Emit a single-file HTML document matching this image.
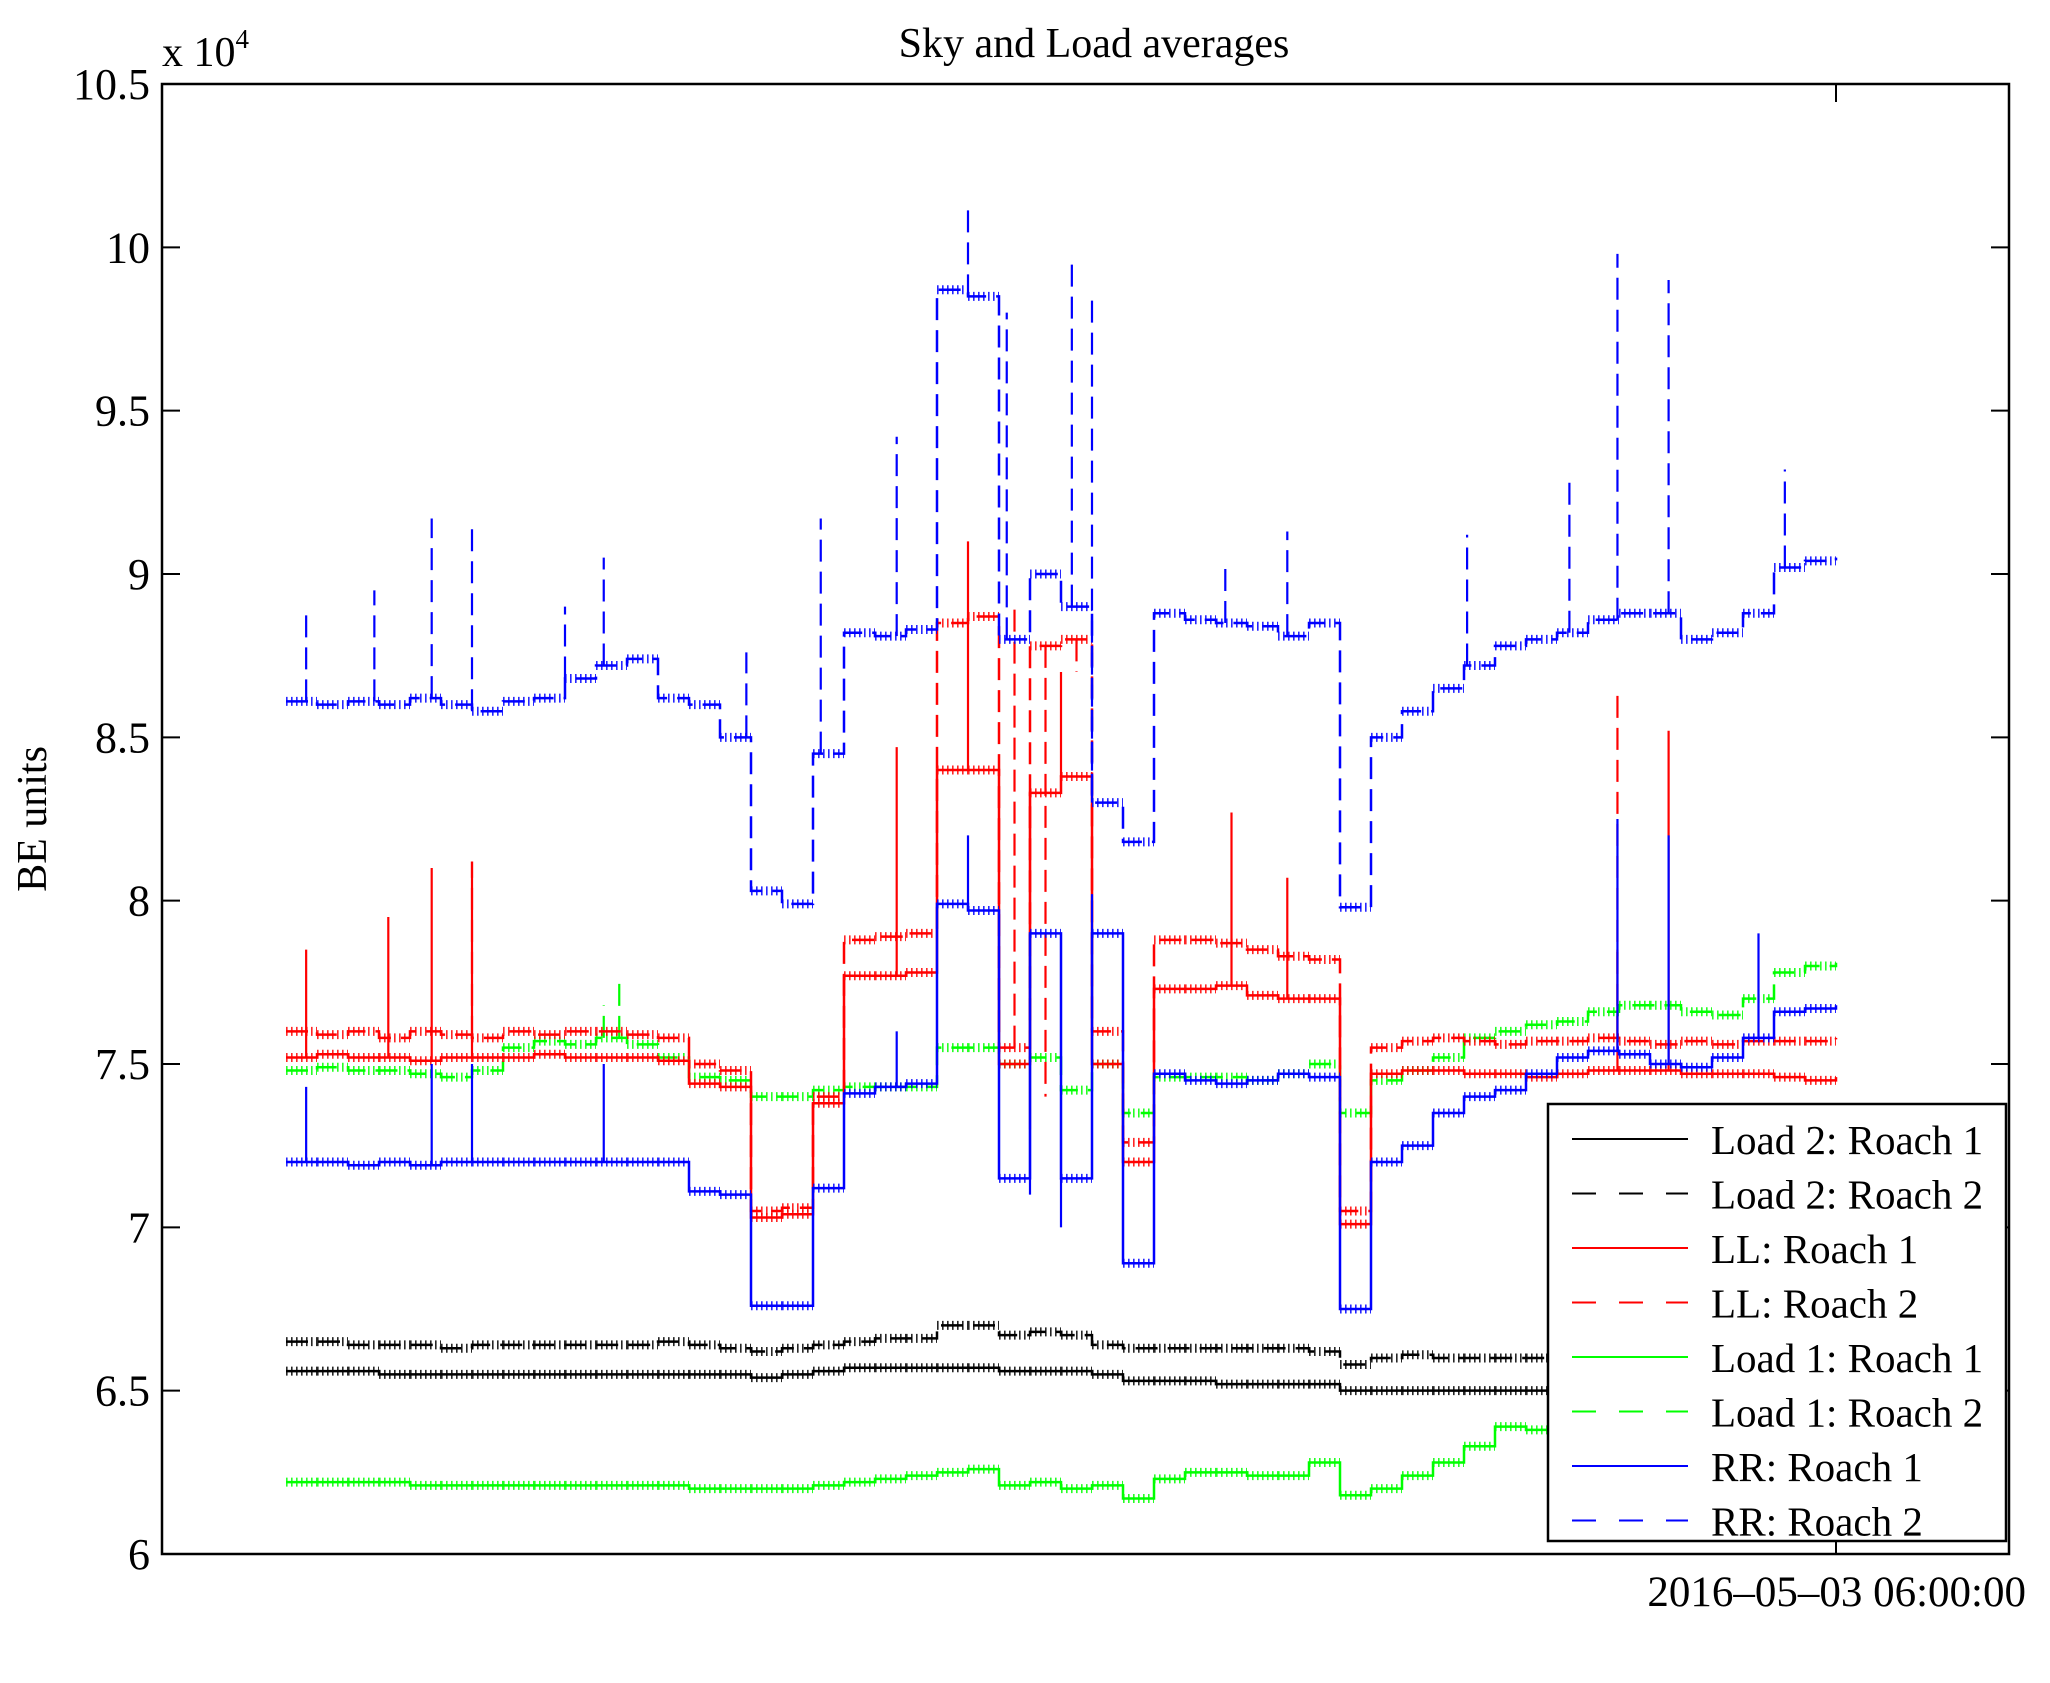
<!DOCTYPE html>
<html><head><meta charset="utf-8"><style>
html,body{margin:0;padding:0;background:#fff;}
svg{display:block;font-family:"Liberation Serif",serif;}
</style></head><body>
<svg id="chart" width="2050" height="1683" viewBox="0 0 2050 1683" xmlns="http://www.w3.org/2000/svg">
<rect x="0" y="0" width="2050" height="1683" fill="#fff"/>
<text x="1094" y="57" font-size="42" text-anchor="middle">Sky and Load averages</text>
<text x="162" y="66" font-size="42">x 10<tspan font-size="27" dy="-18">4</tspan></text>
<text transform="translate(46,819) rotate(-90)" font-size="42" text-anchor="middle">BE units</text>
<text x="2026" y="1606" font-size="43" text-anchor="end">2016–05–03 06:00:00</text>
<g id="plot"></g>
<g id="axes"></g>
<g id="legend"></g>
</svg>
<script>
const tPct=[0,2,4,6,8,10,12,14,16,18,20,22,24,26,28,30,32,34,36,38,40,42,44,46,48,50,52,54,56,58,60,62,64,66,68,70,72,74,76,78,80,82,84,86,88,90,92,94,96,98,100];
const rr2=[8.61,8.60,8.61,8.60,8.62,8.60,8.58,8.61,8.62,8.68,8.72,8.74,8.62,8.60,8.50,8.03,7.99,8.45,8.82,8.81,8.83,9.87,9.85,8.80,9.00,8.90,8.30,8.18,8.88,8.86,8.85,8.84,8.81,8.85,7.98,8.50,8.58,8.65,8.72,8.78,8.80,8.82,8.86,8.88,8.88,8.80,8.82,8.88,9.02,9.04,9.05];
const rr1=[7.20,7.20,7.19,7.20,7.19,7.20,7.20,7.20,7.20,7.20,7.20,7.20,7.20,7.11,7.10,6.76,6.76,7.12,7.41,7.43,7.44,7.99,7.97,7.15,7.90,7.15,7.90,6.89,7.47,7.45,7.44,7.45,7.47,7.46,6.75,7.20,7.25,7.35,7.40,7.42,7.47,7.52,7.54,7.53,7.50,7.49,7.52,7.58,7.66,7.67,7.68];
const ll2=[7.60,7.59,7.60,7.58,7.60,7.59,7.58,7.60,7.59,7.60,7.60,7.59,7.58,7.50,7.48,7.05,7.06,7.40,7.88,7.89,7.90,8.85,8.87,7.55,8.78,8.80,7.60,7.26,7.88,7.88,7.87,7.85,7.83,7.82,7.05,7.55,7.57,7.58,7.57,7.56,7.57,7.57,7.58,7.57,7.56,7.57,7.56,7.57,7.57,7.57,7.58];
const ll1=[7.52,7.53,7.52,7.52,7.51,7.52,7.52,7.52,7.53,7.52,7.52,7.52,7.51,7.44,7.43,7.03,7.04,7.38,7.77,7.77,7.78,8.40,8.40,7.50,8.33,8.38,7.50,7.20,7.73,7.73,7.74,7.71,7.70,7.70,7.01,7.47,7.48,7.48,7.47,7.47,7.46,7.47,7.48,7.48,7.48,7.47,7.47,7.47,7.46,7.45,7.46];
const ld1r2=[7.48,7.49,7.48,7.48,7.47,7.46,7.48,7.55,7.57,7.56,7.58,7.56,7.52,7.46,7.45,7.40,7.40,7.42,7.43,7.43,7.43,7.55,7.55,7.50,7.52,7.42,7.50,7.35,7.46,7.46,7.46,7.45,7.47,7.50,7.35,7.45,7.48,7.52,7.58,7.60,7.62,7.63,7.66,7.68,7.68,7.66,7.65,7.70,7.78,7.80,7.81];
const ld1r1=[6.22,6.22,6.22,6.22,6.21,6.21,6.21,6.21,6.21,6.21,6.21,6.21,6.21,6.20,6.20,6.20,6.20,6.21,6.22,6.23,6.24,6.25,6.26,6.21,6.22,6.20,6.21,6.17,6.23,6.25,6.25,6.24,6.24,6.28,6.18,6.20,6.24,6.28,6.33,6.39,6.38,6.42,6.44,6.46,6.48,6.50,6.52,6.55,6.58,6.60,6.62];
const ld2r2=[6.65,6.65,6.64,6.64,6.64,6.63,6.64,6.64,6.64,6.64,6.64,6.64,6.65,6.64,6.63,6.62,6.63,6.64,6.65,6.66,6.66,6.70,6.70,6.67,6.68,6.67,6.64,6.63,6.63,6.63,6.63,6.63,6.63,6.62,6.58,6.60,6.61,6.60,6.60,6.60,6.60,6.60,6.60,6.60,6.60,6.60,6.60,6.60,6.60,6.60,6.60];
const ld2r1=[6.56,6.56,6.56,6.55,6.55,6.55,6.55,6.55,6.55,6.55,6.55,6.55,6.55,6.55,6.55,6.54,6.55,6.56,6.57,6.57,6.57,6.57,6.57,6.56,6.56,6.56,6.55,6.53,6.53,6.53,6.52,6.52,6.52,6.52,6.50,6.50,6.50,6.50,6.50,6.50,6.50,6.50,6.50,6.50,6.50,6.50,6.50,6.50,6.50,6.50,6.50];
const rr2SpikeT=[1.3,5.7,9.4,12,18,20.5,29.7,34.5,39.4,44,46.5,50.7,52,60.6,64.6,76.2,82.8,85.9,89.2,96.7];
const rr2SpikeV=[8.88,8.95,9.17,9.15,8.90,9.05,8.76,9.17,9.42,10.12,9.80,9.95,9.85,9.04,9.13,9.12,9.30,9.98,9.90,9.32];
const rr1SpikeT=[1.3,9.4,12,20.5,39.4,44,48,50,52,85.9,89.2,95];
const rr1SpikeV=[7.43,7.50,7.50,7.50,7.60,8.20,7.10,7.00,8.02,8.25,8.20,7.90];
const ll1SpikeT=[1.3,6.6,9.4,12,39.4,44,48,50,61,64.6,85.9,89.2];
const ll1SpikeV=[7.85,7.95,8.10,8.12,8.47,9.10,7.30,8.70,8.27,8.07,7.85,8.52];
const ll2SpikeT=[12,47,49,51,85.9];
const ll2SpikeV=[8.12,8.90,7.40,8.70,8.65];
const ld1r2SpikeT=[20.5,21.5];
const ld1r2SpikeV=[7.68,7.75];

const X0=286,X1=1836,Y0=1554,Y1=84,YMIN=6,YMAX=10.5;
const AXL=162,AXR=2009;
const xS=t=>X0+t/100*(X1-X0);
const yS=v=>Y0-(v-YMIN)/(YMAX-YMIN)*(Y0-Y1);
const NS='http://www.w3.org/2000/svg';
const plot=document.getElementById('plot');
function mk(tag,attrs,parent){const e=document.createElementNS(NS,tag);for(const k in attrs)e.setAttribute(k,attrs[k]);parent.appendChild(e);return e;}
function stepPath(vals){let d='';for(let i=0;i<tPct.length;i++){const x=xS(tPct[i]),y=yS(vals[i]);if(i===0)d+='M'+x+' '+y;else d+=' H'+x+' V'+y;}return d;}
function combPath(vals){let d='';for(let i=0;i<tPct.length-1;i++){const y=yS(vals[i]);d+='M'+xS(tPct[i])+' '+y+' H'+xS(tPct[i+1])+' ';}return d;}
function baseAt(vals,t){let i=0;while(i<tPct.length-1&&tPct[i+1]<=t)i++;return vals[i];}
const series=[
 {vals:ld1r1,c:'#00ff00',dash:false,st:[],sv:[],name:'load1-roach1-line'},
 {vals:ld2r1,c:'#000',dash:false,st:[],sv:[],name:'load2-roach1-line'},
 {vals:ld2r2,c:'#000',dash:true,st:[],sv:[],name:'load2-roach2-line'},
 {vals:ld1r2,c:'#00ff00',dash:true,st:ld1r2SpikeT,sv:ld1r2SpikeV,name:'load1-roach2-line'},
 {vals:ll2,c:'#ff0000',dash:true,st:ll2SpikeT,sv:ll2SpikeV,name:'ll-roach2-line'},
 {vals:ll1,c:'#ff0000',dash:false,st:ll1SpikeT,sv:ll1SpikeV,name:'ll-roach1-line'},
 {vals:rr2,c:'#0000ff',dash:true,st:rr2SpikeT,sv:rr2SpikeV,name:'rr-roach2-line'},
 {vals:rr1,c:'#0000ff',dash:false,st:rr1SpikeT,sv:rr1SpikeV,name:'rr-roach1-line'}
];
series.forEach(s=>{
 const g=mk('g',{},plot);
 
 
 mk('path',{d:stepPath(s.vals),fill:'none',stroke:s.c,'stroke-width':2.5,'stroke-dasharray':s.dash?'22 10':'none'},g);
 mk('path',{d:combPath(s.vals),fill:'none',stroke:s.c,'stroke-width':9,'stroke-dasharray':'1.6 3.4','stroke-opacity':0.85},g);
 for(let i=0;i<s.st.length;i++){
  const x=xS(s.st[i]);
  const sp=mk('line',{x1:x,x2:x,y1:yS(baseAt(s.vals,s.st[i])),y2:yS(s.sv[i]),stroke:s.c,'stroke-width':2.2,'stroke-dasharray':s.dash?'22 10':'none'},g);
  
  
 }
});
const ax=document.getElementById('axes');
mk('rect',{x:AXL,y:84,width:AXR-AXL,height:1470,fill:'none',stroke:'#000','stroke-width':2.5},ax);
const yTicks=[6,6.5,7,7.5,8,8.5,9,9.5,10,10.5];
const yLabels=['6','6.5','7','7.5','8','8.5','9','9.5','10','10.5'];
yTicks.forEach((v,i)=>{
 const y=yS(v);
 mk('line',{x1:AXL,x2:AXL+18,y1:y,y2:y,stroke:'#000','stroke-width':2},ax);
 mk('line',{x1:AXR,x2:AXR-18,y1:y,y2:y,stroke:'#000','stroke-width':2},ax);
 const t=mk('text',{x:150,y:y+15,'font-size':44,'text-anchor':'end'},ax);
 t.textContent=yLabels[i];
 
 
});
mk('line',{x1:X1,x2:X1,y1:1554,y2:1536,stroke:'#000','stroke-width':2},ax);
mk('line',{x1:X1,x2:X1,y1:84,y2:102,stroke:'#000','stroke-width':2},ax);
const lg=document.getElementById('legend');
mk('rect',{x:1548,y:1104,width:458,height:437,fill:'#fff',stroke:'#000','stroke-width':2.5},lg);
const legNames=['Load 2: Roach 1','Load 2: Roach 2','LL: Roach 1','LL: Roach 2','Load 1: Roach 1','Load 1: Roach 2','RR: Roach 1','RR: Roach 2'];
const legColors=['#000','#000','#ff0000','#ff0000','#00ff00','#00ff00','#0000ff','#0000ff'];
legNames.forEach((n,i)=>{
 const y=1139+i*54.5;
 const g=mk('g',{},lg);
 
 
 mk('line',{x1:1572,x2:1688,y1:y,y2:y,stroke:legColors[i],'stroke-width':2,'stroke-dasharray':i%2?'24 23':'none'},g);
 const t=mk('text',{x:1711,y:y+15,'font-size':41},g);
 t.textContent=n;
});
</script>
</body></html>
